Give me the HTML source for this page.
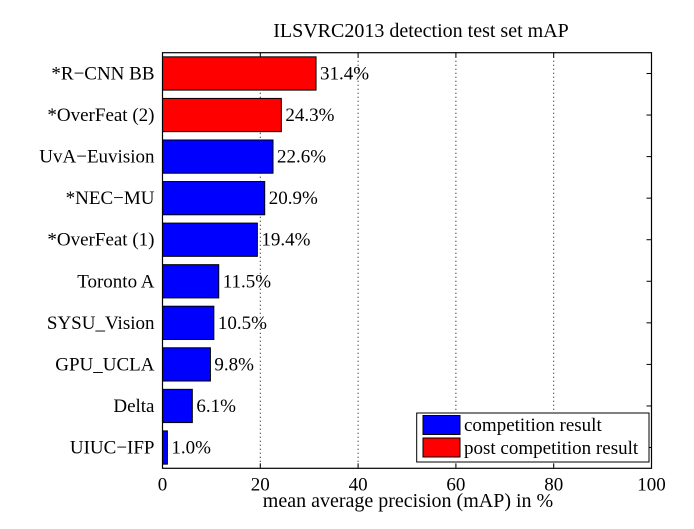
<!DOCTYPE html>
<html><head><style>
body{margin:0;background:#fff}
svg text{font-family:"Liberation Serif",serif;fill:#000}
</style></head><body>
<svg id="c" width="694" height="524"></svg>
<script>
const categories=["*R\u2212CNN BB","*OverFeat (2)","UvA\u2212Euvision","*NEC\u2212MU","*OverFeat (1)","Toronto A","SYSU_Vision","GPU_UCLA","Delta","UIUC\u2212IFP"];
const values=[31.4,24.3,22.6,20.9,19.4,11.5,10.5,9.8,6.1,1.0];
const postComp=[true,true,false,false,false,false,false,false,false,false];
const xTicks=[0,20,40,60,80,100];
const L=162.5,R=651.5,T=52.7,B=468.3;
const sx=v=>L+(v/100)*(R-L);
const band=(B-T)/categories.length;
const sy=i=>T+band*(i+0.5);
const svg=document.getElementById('c');
const NS='http://www.w3.org/2000/svg';
function mk(t,a,p){const e=document.createElementNS(NS,t);for(const k in a)e.setAttribute(k,a[k]);(p||svg).appendChild(e);return e;}
let e;
e=mk('rect',{x:L,y:T,width:R-L,height:B-T,fill:'#fff'});


xTicks.forEach(t=>{
  const x=sx(t);
  if(t>0&&t<100){e=mk('line',{x1:x,x2:x,y1:T,y2:B,stroke:'#000','stroke-width':1,'stroke-dasharray':'1,3'});
  
  }
  mk('line',{x1:x,x2:x,y1:B,y2:B-5,stroke:'#000'});
  mk('line',{x1:x,x2:x,y1:T,y2:T+5,stroke:'#000'});
  e=mk('text',{x:x,y:B+22,'text-anchor':'middle','font-size':19});e.textContent=t;
  
  
});
categories.forEach((c,i)=>{
  const y=sy(i),h=band*0.8;
  mk('line',{x1:L,x2:L+5,y1:y,y2:y,stroke:'#000'});
  mk('line',{x1:R,x2:R-5,y1:y,y2:y,stroke:'#000'});
  e=mk('rect',{x:L,y:y-h/2,width:sx(values[i])-L,height:h,fill:postComp[i]?'#f00':'#00f',stroke:'#000','stroke-width':1});
  
  
  e=mk('text',{x:sx(values[i])+4,y:y+6,'font-size':19});e.textContent=values[i].toFixed(1)+'%';
  
  
  e=mk('text',{x:L-8,y:y+6,'text-anchor':'end','font-size':19});e.textContent=c;
  
  
});
e=mk('rect',{x:L,y:T,width:R-L,height:B-T,fill:'none',stroke:'#000','stroke-width':1.2});


e=mk('text',{x:421,y:37,'text-anchor':'middle','font-size':20});e.textContent='ILSVRC2013 detection test set mAP';


e=mk('text',{x:408,y:507,'text-anchor':'middle','font-size':20});e.textContent='mean average precision (mAP) in %';


const g=mk('g',{});


mk('rect',{x:416.7,y:413,width:232.3,height:49,fill:'#fff',stroke:'#000'},g);
mk('rect',{x:423,y:415.5,width:37,height:19,fill:'#00f',stroke:'#000'},g);
mk('rect',{x:423,y:438,width:37,height:19,fill:'#f00',stroke:'#000'},g);
e=mk('text',{x:464,y:431,'font-size':19},g);e.textContent='competition result';


e=mk('text',{x:464,y:454,'font-size':19},g);e.textContent='post competition result';


</script>
</body></html>
